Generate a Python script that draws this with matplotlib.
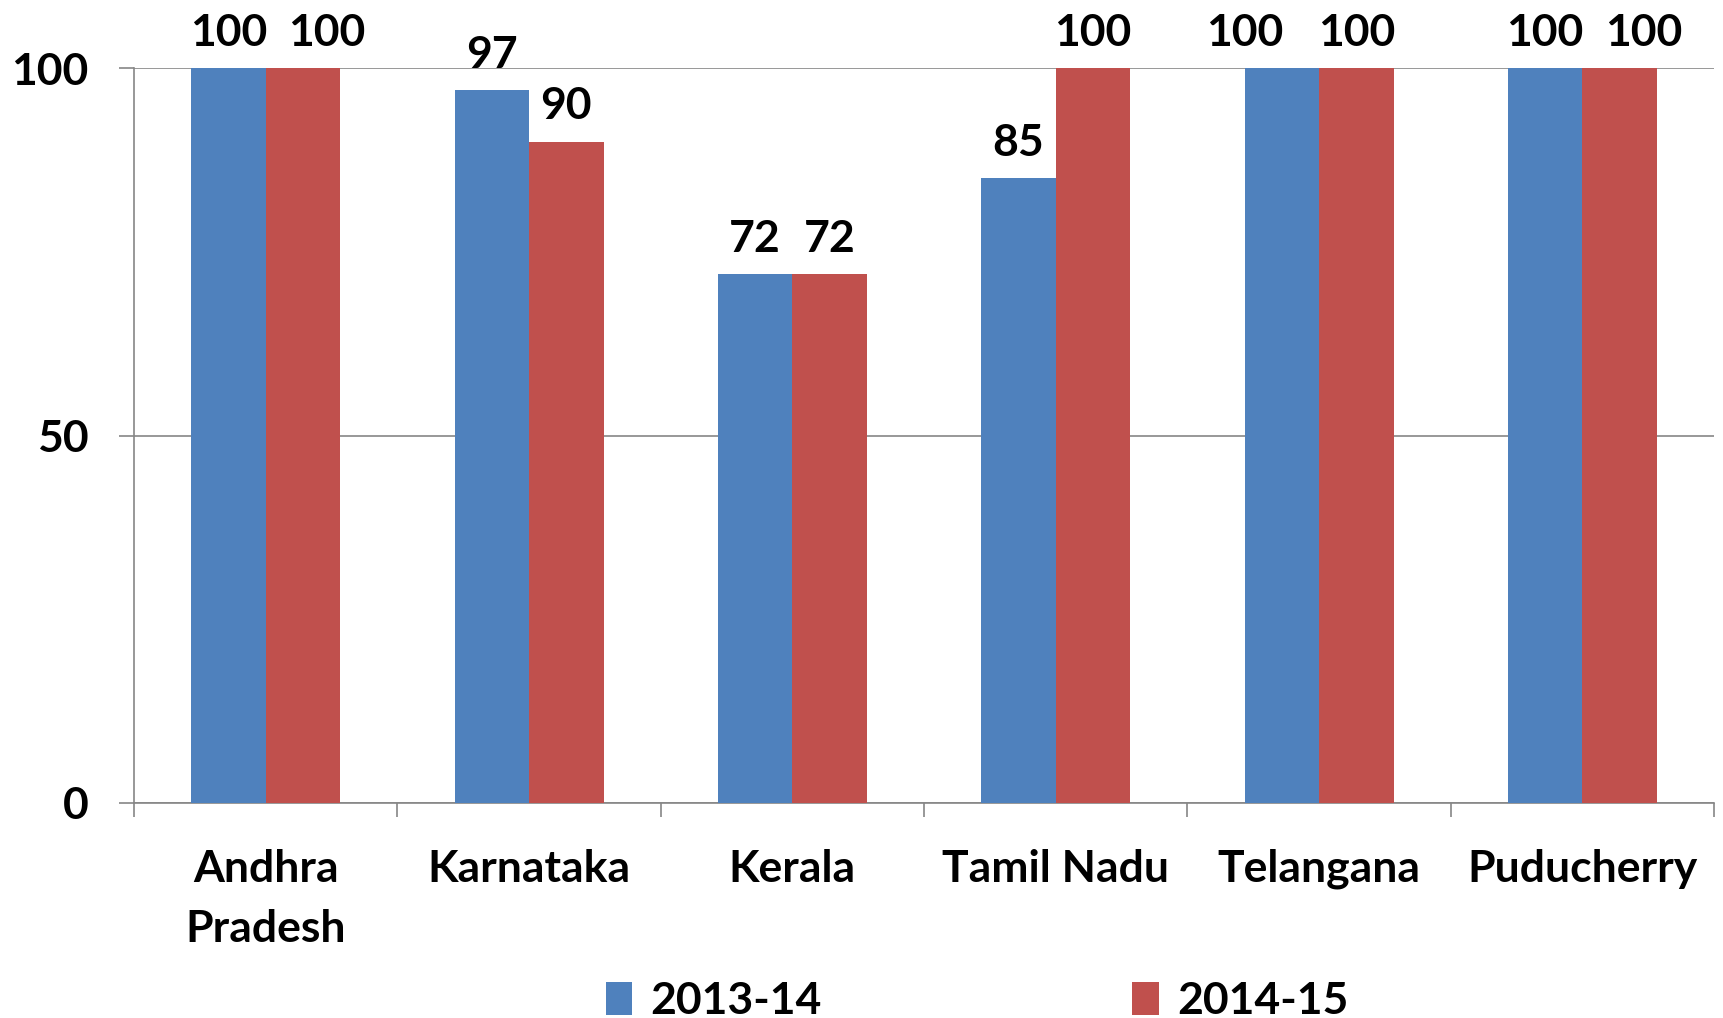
import numpy as np
import matplotlib
matplotlib.use("Agg")
import matplotlib.pyplot as plt

# data
states = ["Andhra\nPradesh", "Karnataka", "Kerala", "Tamil Nadu", "Telangana", "Puducherry"]
years = ["2013-14", "2014-15"]
values_2013 = [100, 97, 72, 85, 100, 100]
values_2014 = [100, 90, 72, 100, 100, 100]
yticks = [0, 50, 100]

# sideways nudges (points) of the value labels, as in the original, so the 100s don't collide
nudge_2013 = [0, 0, 0, 0, -27, 0]
nudge_2014 = [17, 0, 0, 0, 0, 17]

colors = ["#4F81BD", "#C0504D"]
gridColor = "#868686"
fontSize = 32

plt.rcParams["font.family"] = ["Lato", "DejaVu Sans"]
plt.rcParams["font.weight"] = "bold"

fig = plt.figure(figsize=(17.23, 10.18), dpi=100)
ax = fig.add_axes([0.0778, 0.2112, 0.917, 0.7220])

x = np.arange(len(states))
barWidth = 0.283
b1 = ax.bar(x - barWidth / 2, values_2013, barWidth, color=colors[0], label=years[0], zorder=3)
b2 = ax.bar(x + barWidth / 2, values_2014, barWidth, color=colors[1], label=years[1], zorder=3)

# value labels on top of the bars
for bars, vals, nudges in ((b1, values_2013, nudge_2013), (b2, values_2014, nudge_2014)):
    for bar, v, dx in zip(bars, vals, nudges):
        ax.annotate(str(v), (bar.get_x() + bar.get_width() / 2, v),
                    xytext=(dx, 11), textcoords="offset points",
                    ha="center", va="bottom", fontsize=fontSize, fontweight="bold",
                    annotation_clip=False)

ax.set_xlim(-0.5, len(states) - 0.5)
ax.set_ylim(0, 100)

ax.set_yticks(yticks)
ax.set_yticklabels([str(v) for v in yticks], fontsize=fontSize, fontweight="bold")
ax.yaxis.grid(True, color=gridColor, linewidth=1.2, zorder=0)
ax.tick_params(axis="y", length=11, color=gridColor, width=1.2, pad=22)

# category labels centred, ticks at the group boundaries
ax.set_xticks(x)
ax.set_xticklabels(states, fontsize=fontSize, fontweight="bold", linespacing=1.6)
ax.set_xticks(np.arange(-0.5, len(states), 1.0), minor=True)
ax.tick_params(axis="x", which="major", length=0, pad=33)
ax.tick_params(axis="x", which="minor", length=10, color=gridColor, width=1.2)

for side in ["top", "right"]:
    ax.spines[side].set_visible(False)
ax.spines["left"].set_color(gridColor)
ax.spines["bottom"].set_color(gridColor)
ax.spines["left"].set_linewidth(1.2)
ax.spines["bottom"].set_linewidth(1.2)

fig.legend(loc="lower center", bbox_to_anchor=(0.567, -0.025), ncol=2, frameon=False,
           prop={"weight": "bold", "size": fontSize}, handlelength=0.6, handleheight=0.75,
           columnspacing=7.0, handletextpad=0.4, borderpad=0.0)

fig.savefig("out.png", dpi=100)
